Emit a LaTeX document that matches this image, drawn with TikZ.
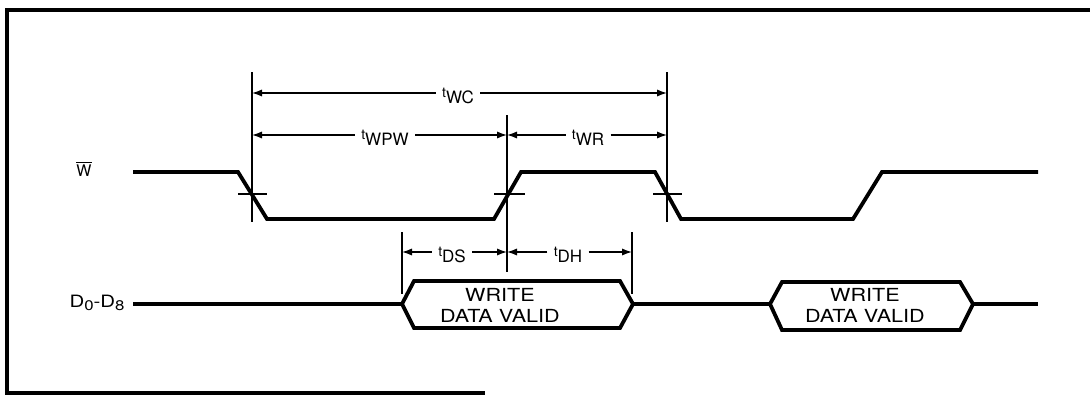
\documentclass[tikz,border=0pt]{standalone}
\usepackage{fontspec}
\setmainfont{TeX Gyre Heros}
\newfontfamily\widefont[FakeStretch=1.2]{TeX Gyre Heros}
\usetikzlibrary{arrows.meta}
\newcommand\tlab[1]{{\fontsize{7}{8}\selectfont t}\raisebox{-2.8pt}{\fontsize{8.5}{9}\selectfont #1}}
\begin{document}
\begin{tikzpicture}[x=0.5pt,y=-0.5pt,
  frame/.style={line width=1.7pt},
  sig/.style={line width=1.9pt, line join=miter},
  refl/.style={line width=0.65pt},
  dim/.style={line width=0.65pt, -{Latex[length=5pt,width=3.6pt]}},
  dimlab/.style={inner xsep=3pt, inner ysep=1pt},
  datatxt/.style={font=\widefont\fontsize{9}{10.5}\selectfont, align=center, inner sep=0pt},
  siglab/.style={inner sep=0pt}]
\useasboundingbox (0,0) rectangle (1090,396);
% frame
\draw[frame] (1090,10) -- (7,10) -- (7,393) -- (485,393);
% reference coordinates
\coordinate (aT) at (252,72);  \coordinate (aB) at (252,222);
\coordinate (bT) at (507,115); \coordinate (bB) at (507,272);
\coordinate (cT) at (667,72);  \coordinate (cB) at (667,222);
\coordinate (dT) at (402,232); \coordinate (dB) at (402,294);
\coordinate (eT) at (632,232); \coordinate (eB) at (632,294);
\draw[refl] (aT) -- (aB);
\draw[refl] (bT) -- (bB);
\draw[refl] (cT) -- (cB);
\draw[refl] (dT) -- (dB);
\draw[refl] (eT) -- (eB);
% signal labels
\node[siglab] (wlab) at (84,169) {\fontsize{8}{9}\selectfont$\overline{\mbox{W}}$};
\node[siglab] (dlab) at (97,303) {\widefont\fontsize{8.5}{9}\selectfont D\raisebox{-1.8pt}{\fontsize{7}{7}\selectfont 0}-D\raisebox{-1.8pt}{\fontsize{7}{7}\selectfont 8}};
% W waveform
\draw[sig] (133,172) -- (238,172) -- (267,219) -- (494,219) -- (521,172) -- (655,172) -- (681,219) -- (853,219) -- (882,172) -- (1038,172);
% crossing ticks
\draw[refl] (238,194) -- (267,194);
\draw[refl] (494,194) -- (525,194);
\draw[refl] (653,194) -- (682,194);
% data waveform
\node[datatxt] (wd1) at (500,305) {WRITE\\DATA VALID};
\node[datatxt] (wd2) at (865,305) {WRITE\\DATA VALID};
\draw[sig] (133,304) -- (402,304);
\draw[sig] (402,304) -- (414,281) -- (620,281) -- (633,304) -- (620,328) -- (414,328) -- cycle;
\draw[sig] (633,304) -- (770,304);
\draw[sig] (770,304) -- (782,282) -- (960,282) -- (973,304) -- (960,330) -- (782,330) -- cycle;
\draw[sig] (973,304) -- (1038,304);
% dimension labels
\coordinate (y1) at (0,93);
\coordinate (y2) at (0,135);
\coordinate (y3) at (0,252);
\node[dimlab] (wc) at (458,96) {\tlab{WC}};
\node[dimlab] (wpw) at (385,138) {\tlab{WPW}};
\node[dimlab] (wr) at (588,138) {\tlab{WR}};
\node[dimlab] (ds) at (452,255) {\tlab{DS}};
\node[dimlab] (dh) at (568,255) {\tlab{DH}};
% dimension arrows
\draw[dim] (wc.west |- y1) -- (aT |- y1);
\draw[dim] (wc.east |- y1) -- (cT |- y1);
\draw[dim] (wpw.west |- y2) -- (aT |- y2);
\draw[dim] (wpw.east |- y2) -- (bT |- y2);
\draw[dim] (wr.west |- y2) -- (bT |- y2);
\draw[dim] (wr.east |- y2) -- (cT |- y2);
\draw[dim] (ds.west |- y3) -- (dT |- y3);
\draw[dim] (ds.east |- y3) -- (bT |- y3);
\draw[dim] (dh.west |- y3) -- (bT |- y3);
\draw[dim] (dh.east |- y3) -- (eT |- y3);
\end{tikzpicture}
\end{document}
